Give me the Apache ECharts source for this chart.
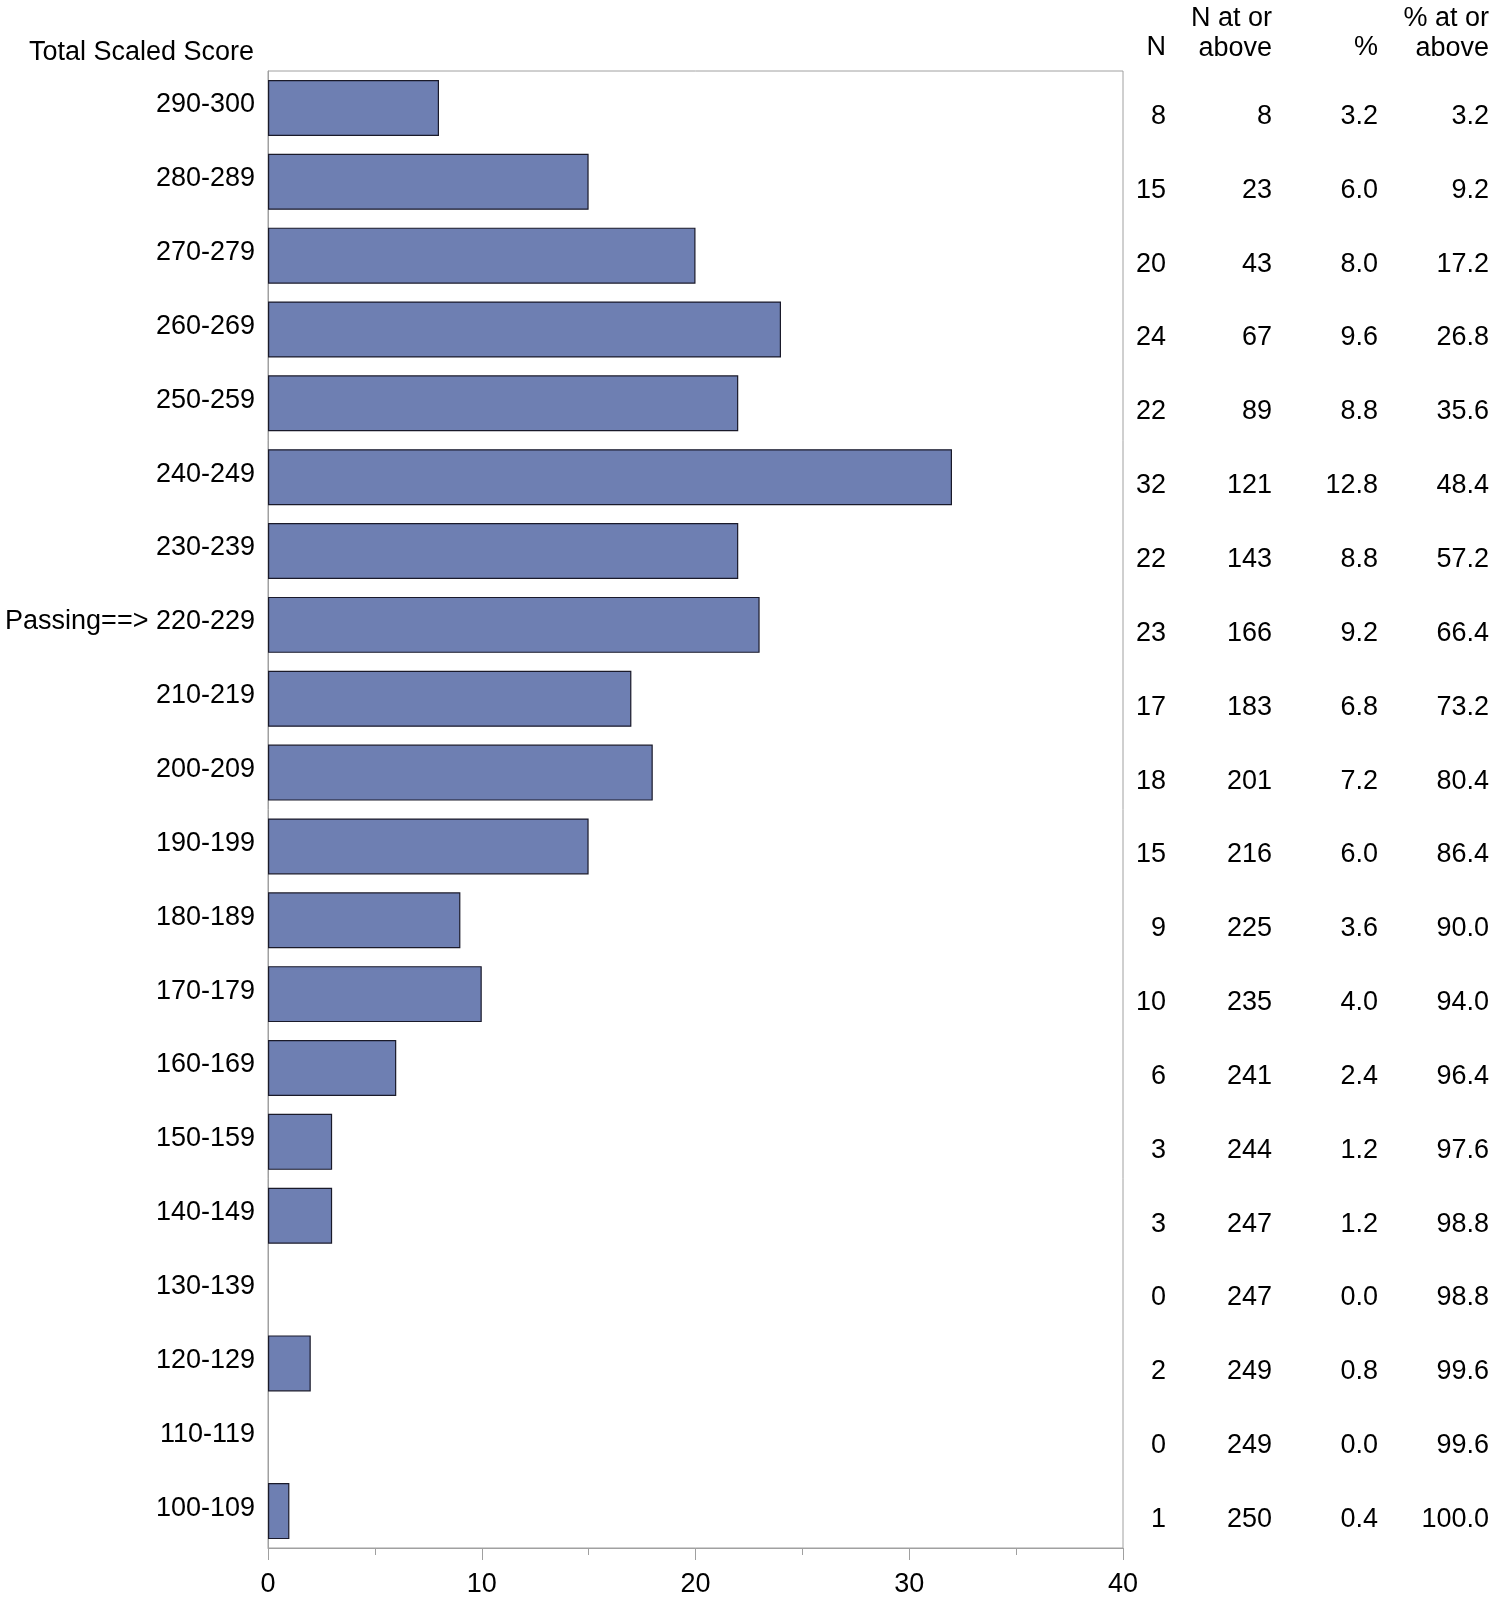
<!DOCTYPE html>
<html>
<head>
<meta charset="utf-8">
<script src="https://cdn.jsdelivr.net/npm/echarts@6/dist/echarts.min.js"></script>
<style>
html,body{margin:0;padding:0;background:#fff;}
#chart{width:1507px;height:1598px;}
</style>
</head>
<body>
<div id="chart"></div>
<script>
// ---- data ----
var categories = ['290-300','280-289','270-279','260-269','250-259','240-249','230-239','220-229','210-219','200-209','190-199','180-189','170-179','160-169','150-159','140-149','130-139','120-129','110-119','100-109'];
var counts = [8,15,20,24,22,32,22,23,17,18,15,9,10,6,3,3,0,2,0,1];
var nAtOrAbove = [8,23,43,67,89,121,143,166,183,201,216,225,235,241,244,247,247,249,249,250];
var pct = ['3.2','6.0','8.0','9.6','8.8','12.8','8.8','9.2','6.8','7.2','6.0','3.6','4.0','2.4','1.2','1.2','0.0','0.8','0.0','0.4'];
var pctAtOrAbove = ['3.2','9.2','17.2','26.8','35.6','48.4','57.2','66.4','73.2','80.4','86.4','90.0','94.0','96.4','97.6','98.8','98.8','99.6','99.6','100.0'];
var passingCategory = '220-229';
var xTicks = [0,10,20,30,40];
</script>
<script>
var FONT = 'Liberation Sans, Arial, sans-serif';
var FS = 27;
var chart = echarts.init(document.getElementById('chart'), null, {renderer:'canvas'});

function tableAxis(data, offset){
  return {
    type:'category', data:data, inverse:true, position:'right', offset:offset,
    axisLine:{show:false}, axisTick:{show:false}, splitLine:{show:false},
    axisLabel:{show:true, margin:0, align:'right', verticalAlign:'top', lineHeight:17,
      color:'#000', fontSize:FS, fontFamily:FONT, interval:0}
  };
}

var option = {
  animation:false,
  backgroundColor:'#fff',
  grid:{left:268, right:384, top:71, bottom:48, show:true, borderColor:'#a0a0a0', borderWidth:1, containLabel:false},
  xAxis:{
    type:'value', min:xTicks[0], max:xTicks[xTicks.length-1], interval:10,
    axisLine:{show:true, lineStyle:{color:'#a0a0a0', width:1}},
    axisTick:{show:true, length:12, inside:false, lineStyle:{color:'#a0a0a0'}},
    minorTick:{show:true, splitNumber:2, length:7, lineStyle:{color:'#a0a0a0'}},
    splitLine:{show:false},
    axisLabel:{color:'#000', fontSize:FS, fontFamily:FONT, margin:23}
  },
  yAxis:[
    {
      type:'category', data:categories, inverse:true,
      axisLine:{show:true, lineStyle:{color:'#a0a0a0'}}, axisTick:{show:false},
      axisLabel:{color:'#000', fontSize:FS, fontFamily:FONT, margin:13, interval:0,
        verticalAlign:'bottom', lineHeight:6,
        formatter:function(v){ return v===passingCategory ? 'Passing==> '+v : v; }}
    },
    tableAxis(counts, 43),
    tableAxis(nAtOrAbove, 149),
    tableAxis(pct, 255),
    tableAxis(pctAtOrAbove, 366)
  ],
  series:[{
    type:'bar', yAxisIndex:0, barWidth:56,
    data:counts.map(function(v){ return v === 0 ? null : v; }),
    itemStyle:{color:'#6e7fb2', borderColor:'#1a1a2a', borderWidth:1.2}
  }],
  graphic:[
    {type:'text', right:1507-254, top:39, style:{text:'Total Scaled Score', font:FS+'px '+FONT, fill:'#000', textAlign:'right'}},
    {type:'text', right:1507-1166, top:34, style:{text:'N', font:FS+'px '+FONT, fill:'#000', textAlign:'right'}},
    {type:'text', right:1507-1272, top:4, style:{text:'N at or\nabove', font:FS+'px '+FONT, lineHeight:30, fill:'#000', textAlign:'right'}},
    {type:'text', right:1507-1378, top:34, style:{text:'%', font:FS+'px '+FONT, fill:'#000', textAlign:'right'}},
    {type:'text', right:1507-1489, top:4, style:{text:'% at or\nabove', font:FS+'px '+FONT, lineHeight:30, fill:'#000', textAlign:'right'}}
  ]
};
chart.setOption(option);
</script>
</body>
</html>
